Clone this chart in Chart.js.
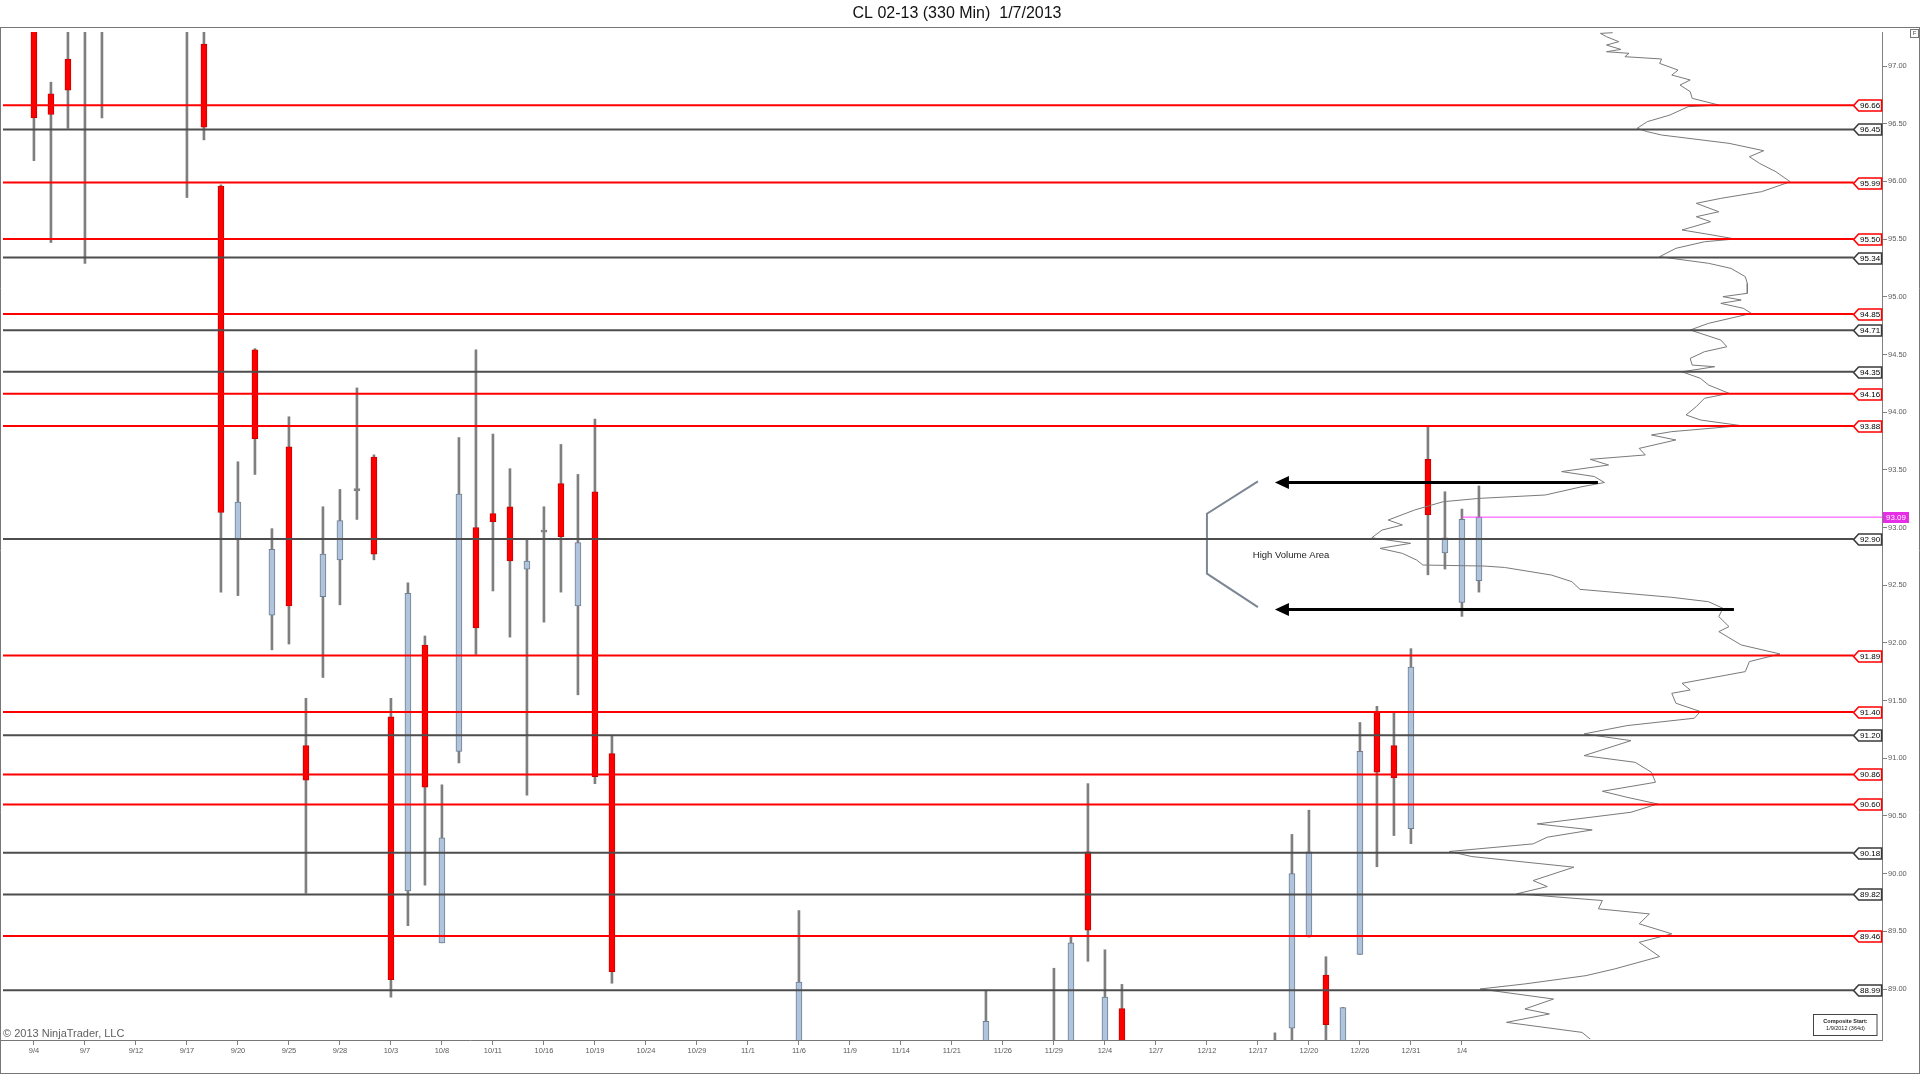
<!DOCTYPE html>
<html><head><meta charset="utf-8">
<script src="https://cdn.jsdelivr.net/npm/chart.js@4.4.1/dist/chart.umd.min.js"></script>
<style>html,body{margin:0;padding:0;background:#fff;overflow:hidden}canvas{display:block}</style>
</head><body>
<canvas id="c" width="1920" height="1074"></canvas>
<script>
// ---------- DATA ----------
const chartTitle = 'CL 02-13 (330 Min)  1/7/2013';
const copyright = '\u00A9 2013 NinjaTrader, LLC';
const compositeText = ['Composite Start:', '1/9/2012 (364d)'];

// x tick labels, one every 3 bars (bar index 0,3,6,...)
const xTickLabels = ['9/4','9/7','9/12','9/17','9/20','9/25','9/28','10/3','10/8','10/11','10/16','10/19','10/24','10/29','11/1','11/6','11/9','11/14','11/21','11/26','11/29','12/4','12/7','12/12','12/17','12/20','12/26','12/31','1/4'];
const yTickValues = [89.0,89.5,90.0,90.5,91.0,91.5,92.0,92.5,93.0,93.5,94.0,94.5,95.0,95.5,96.0,96.5,97.0];

// 330-minute bars (index = bar number); null = bar not in visible price window
const barOpen  = [97.60,96.76,97.06,97.50,97.60,null,null,null,null,97.40,97.19,95.96,92.90,94.54,92.24,93.70,91.11,92.40,92.72,93.32,93.61,91.36,89.85,91.98,89.40,91.06,93.00,93.12,93.18,92.64,92.96,93.38,92.32,93.31,91.04,
  null,null,null,null,null,null,null,null,null,null,88.20,null,null,null,null,null,null,null,null,null,null,88.30,null,null,null,
  88.20,88.40,90.19,88.40,88.83,null,null,null,null,null,null,null,null,88.30,88.66,89.46,89.12,88.40,89.30,91.40,91.11,90.39,93.59,92.78,92.35,92.54];
const barHigh  = [97.80,96.86,97.50,97.80,97.90,null,null,null,null,97.70,97.45,95.97,93.57,94.55,92.99,93.96,91.52,93.18,93.33,94.21,93.63,91.52,92.52,92.06,90.77,93.78,94.54,93.81,93.51,92.89,93.18,93.72,93.46,93.94,91.20,
  null,null,null,null,null,null,null,null,null,null,89.68,null,null,null,null,null,null,null,null,null,null,88.99,null,null,null,
  89.18,89.45,90.78,89.34,89.04,null,null,null,null,null,null,null,null,88.62,90.34,90.55,89.28,88.84,91.31,91.45,91.40,91.95,93.88,93.31,93.16,93.36];
const barLow   = [96.18,95.47,96.46,95.29,96.55,null,null,null,null,95.86,96.36,92.44,92.41,93.46,91.94,91.99,89.83,91.70,92.33,93.07,92.72,88.93,89.55,89.90,89.40,90.96,91.90,92.45,92.05,90.68,92.18,92.44,91.55,90.78,89.05,
  null,null,null,null,null,null,null,null,null,null,88.00,null,null,null,null,null,null,null,null,null,null,88.10,null,null,null,
  87.90,88.20,89.24,88.20,88.20,null,null,null,null,null,null,null,null,88.00,88.40,89.45,88.40,88.30,89.30,90.06,90.33,90.26,92.59,92.64,92.23,92.44];
const barClose = [96.55,96.58,96.79,97.70,97.40,null,null,null,null,97.50,96.47,93.13,93.22,93.77,92.81,92.32,90.81,92.77,93.06,93.32,92.77,89.08,92.43,90.75,90.31,93.29,92.13,93.05,92.71,92.71,92.96,92.92,92.87,90.84,89.15,
  null,null,null,null,null,null,null,null,null,null,89.06,null,null,null,null,null,null,null,null,null,null,88.72,null,null,null,
  88.40,89.40,89.51,88.93,88.40,null,null,null,null,null,null,null,null,88.45,90.00,90.19,88.69,88.84,91.06,90.88,90.83,91.79,93.11,92.91,93.07,93.09];

// horizontal price levels
const redLevels  = [96.66,95.99,95.50,94.85,94.16,93.88,91.89,91.40,90.86,90.60,89.46];
const grayLevels = [96.45,95.34,94.71,94.35,92.90,91.20,90.18,89.82,88.99];
const lastPrice = 93.09;

// composite volume profile (price level, relative volume)
const profilePrice = [97.289,97.283,97.254,97.211,97.182,97.144,97.124,97.110,97.081,97.061,97.023,96.965,96.922,96.879,96.835,96.778,96.720,96.662,96.648,96.575,96.518,96.460,96.431,96.402,96.330,96.266,96.214,96.156,96.084,95.997,95.911,95.853,95.810,95.737,95.694,95.651,95.579,95.535,95.501,95.477,95.420,95.347,95.290,95.246,95.174,95.116,95.030,95.001,94.972,94.943,94.900,94.856,94.770,94.712,94.625,94.567,94.524,94.466,
  94.408,94.394,94.350,94.293,94.235,94.163,94.120,94.048,93.976,93.932,93.883,93.831,93.802,93.759,93.686,93.629,93.591,93.542,93.485,93.442,93.390,93.354,93.282,93.253,93.224,93.152,93.065,93.022,92.978,92.911,92.863,92.819,92.776,92.718,92.675,92.666,92.654,92.588,92.531,92.464,92.395,92.357,92.300,92.228,92.141,92.098,91.982,91.904,91.838,91.751,91.650,91.592,91.563,91.477,91.405,91.347,
  91.283,91.211,91.153,91.023,90.965,90.879,90.792,90.714,90.662,90.604,90.532,90.431,90.379,90.316,90.258,90.192,90.148,90.056,89.940,89.888,89.825,89.767,89.695,89.651,89.565,89.478,89.405,89.281,89.174,89.116,89.044,89.000,88.913,88.827,88.784,88.711,88.624,88.566];
const profileVolume = [312.7,300.4,306.5,318.8,306.5,320.8,306.5,329,324.9,361.6,359.6,378,371.8,390.2,380,390.2,392.2,418.8,388.2,369.8,347.3,337.1,347.3,361.6,429,463.7,449.4,459.6,475.9,490.2,461.6,420.8,396.3,418.8,396.3,410.6,382,412.7,435.1,404.5,375.9,359.6,408.6,431,445.3,447.3,447.3,422.9,441.2,420.8,443.3,451.4,408.6,390.2,420.8,426.9,404.5,390.2,
  392.2,414.7,382,400.4,408.6,429,404.5,396.3,386.1,400.4,441.2,371.8,351.4,375.9,339.2,345.3,290.2,308.6,261.6,294.3,304.5,282,245.3,180,143.3,114.7,88.2,102.4,82,71.8,110.6,80,102.4,116.7,122.9,184.1,204.5,251.4,271.8,280,371.8,408.6,422.9,418.8,429,418.8,441.2,480,449.4,445.3,382,390.2,371.8,375.9,400.4,394.3,
  326.9,284.1,331,284.1,335.1,351.4,355.5,302.4,326.9,357.6,331,237.1,292.2,247.3,233.1,149.4,171.8,273.9,233.1,247.3,216.7,302.4,298.4,349.4,339.2,371.8,339.2,359.6,314.7,286.1,224.9,180,253.5,224.9,249.4,206.5,282,290.2];

// annotation: arrows (price, from bar, to bar), bracket and text
const arrowPrices = [93.39, 92.29];
const arrowFrom = [73.0, 73.0];
const arrowTo = [92.0, 100.0];
const bracketX = [72.0, 69.0, 69.0, 72.0];
const bracketY = [93.40, 93.12, 92.60, 92.31];
const noteText = 'High Volume Area';
const notePos = [71.7, 92.76];

// ---------- CONFIG ----------
const X_MIN = -1.82, X_MAX = 108.71, LEVEL_END = 107.04;
const Y_MIN = 88.558, Y_MAX = 97.295;
const FONT = '"Liberation Sans", Arial, sans-serif';

const wickData = [], bodyData = [], bodyFill = [], bodyStroke = [];
for (let i = 0; i < barOpen.length; i++) {
  if (barOpen[i] === null) continue;
  wickData.push({x: i, y: [barLow[i], barHigh[i]]});
  bodyData.push({x: i, y: [barOpen[i], barClose[i]]});
  if (barClose[i] > barOpen[i]) { bodyFill.push('#b0c4de'); bodyStroke.push('#6f7f90'); }
  else if (barClose[i] < barOpen[i]) { bodyFill.push('#ff0000'); bodyStroke.push('#c80000'); }
  else { bodyFill.push('#808080'); bodyStroke.push('#808080'); }
}

const datasets = [];
redLevels.forEach(v => datasets.push({type:'line', data:[{x:X_MIN,y:v},{x:LEVEL_END,y:v}], borderColor:'#ff0000', borderWidth:2, pointRadius:0, order:0}));
grayLevels.forEach(v => datasets.push({type:'line', data:[{x:X_MIN,y:v},{x:LEVEL_END,y:v}], borderColor:'#4d4d4d', borderWidth:2, pointRadius:0, order:0}));
datasets.push({type:'line', data:[{x:84,y:lastPrice},{x:X_MAX,y:lastPrice}], borderColor:'#ff40ff', borderWidth:1, pointRadius:0, order:0});
arrowPrices.forEach((p, k) => datasets.push({type:'line', data:[{x:arrowFrom[k]+0.6,y:p},{x:arrowTo[k],y:p}], borderColor:'#000', borderWidth:3, pointRadius:0, order:0}));
datasets.push({type:'line', data:bracketX.map((x,k)=>({x:x,y:bracketY[k]})), borderColor:'#7d8694', borderWidth:2, pointRadius:0, order:0});
datasets.push({type:'line', xAxisID:'xp', data:profilePrice.map((p,k)=>({x:profileVolume[k], y:p})), borderColor:'#7a7a7a', borderWidth:1, pointRadius:0, tension:0, order:1});
datasets.push({type:'bar', data:bodyData, backgroundColor:bodyFill, borderColor:bodyStroke, borderWidth:1, borderSkipped:false, barThickness:6, minBarLength:2, grouped:false, order:2});
datasets.push({type:'bar', data:wickData, backgroundColor:'#7f7f7f', borderWidth:0, barThickness:2, grouped:false, order:3});

const decorPlugin = {
  id: 'decor',
  beforeDraw(chart) {
    const c = chart.ctx;
    c.save(); c.fillStyle = '#fff'; c.fillRect(0, 0, chart.width, chart.height); c.restore();
  },
  afterDraw(chart) {
    const c = chart.ctx, xs = chart.scales.x, ys = chart.scales.y;
    c.save();
    // frame
    c.strokeStyle = '#777'; c.lineWidth = 1;
    c.beginPath();
    c.moveTo(0, 27.5); c.lineTo(1920, 27.5);
    c.moveTo(0.5, 27); c.lineTo(0.5, 1074);
    c.moveTo(0, 1073.5); c.lineTo(1920, 1073.5);
    c.moveTo(1919.5, 27); c.lineTo(1919.5, 1074);
    c.moveTo(0, 1040.5); c.lineTo(1882, 1040.5);
    c.stroke();
    // title
    c.fillStyle = '#111'; c.font = '16px ' + FONT; c.textAlign = 'center'; c.textBaseline = 'middle';
    c.fillText(chartTitle, 957, 14);
    // copyright
    c.fillStyle = '#606060'; c.font = '11px ' + FONT; c.textAlign = 'left';
    c.fillText(copyright, 3, 1034);
    // F box
    c.strokeStyle = '#777'; c.strokeRect(1910.5, 29.5, 8, 8);
    c.fillStyle = '#555'; c.font = '6px ' + FONT; c.textAlign = 'center'; c.fillText('F', 1914.5, 33.5);
    // composite box
    c.fillStyle = '#fff'; c.fillRect(1813.5, 1014.5, 63.5, 21);
    c.strokeStyle = '#444'; c.strokeRect(1813.5, 1014.5, 63.5, 21);
    c.fillStyle = '#222'; c.font = 'bold 5.5px ' + FONT;
    c.fillText(compositeText[0], 1845.5, 1021.5);
    c.font = '5.5px ' + FONT;
    c.fillText(compositeText[1], 1845.5, 1028.5);
    // level labels
    const xl = xs.getPixelForValue(LEVEL_END);
    const lab = (v, col) => {
      const y = Math.round(ys.getPixelForValue(v)) + 0.5, w = 28, h = 11, p = 5;
      c.beginPath();
      c.moveTo(xl, y); c.lineTo(xl + p, y - h/2); c.lineTo(xl + w, y - h/2);
      c.lineTo(xl + w, y + h/2); c.lineTo(xl + p, y + h/2); c.closePath();
      c.fillStyle = '#fff'; c.fill();
      c.lineWidth = 1.6; c.strokeStyle = col; c.stroke();
      c.fillStyle = '#000'; c.font = '8px ' + FONT; c.textAlign = 'center'; c.textBaseline = 'middle';
      c.fillText(v.toFixed(2), xl + w/2 + 2.5, y + 0.5);
    };
    redLevels.forEach(v => lab(v, '#ff0000'));
    grayLevels.forEach(v => lab(v, '#3a3a3a'));
    // last price marker
    const ly = Math.round(ys.getPixelForValue(lastPrice));
    c.fillStyle = '#e62ee6'; c.fillRect(1883, ly - 5, 26, 11);
    c.fillStyle = '#fff'; c.font = '8px ' + FONT; c.textAlign = 'center'; c.textBaseline = 'middle';
    c.fillText(lastPrice.toFixed(2), 1896, ly + 0.5);
    // arrow heads
    c.fillStyle = '#000';
    arrowPrices.forEach((p, k) => {
      const tx = xs.getPixelForValue(arrowFrom[k]), ty = ys.getPixelForValue(p);
      c.beginPath(); c.moveTo(tx, ty); c.lineTo(tx + 14, ty - 6.5); c.lineTo(tx + 14, ty + 6.5); c.closePath(); c.fill();
    });
    // note text
    c.fillStyle = '#222'; c.font = '9.5px ' + FONT; c.textAlign = 'left'; c.textBaseline = 'middle';
    c.fillText(noteText, xs.getPixelForValue(notePos[0]), ys.getPixelForValue(notePos[1]));
    c.restore();
  }
};

const tickFont = {family: FONT, size: 7.5};
new Chart(document.getElementById('c'), {
  type: 'bar',
  data: {datasets},
  plugins: [decorPlugin],
  options: {
    responsive: false, devicePixelRatio: 1, animation: false, events: [],
    layout: {padding: {left: 3, top: 32, right: 0, bottom: 0}},
    plugins: {legend: {display: false}, tooltip: {enabled: false}, title: {display: false}},
    scales: {
      x: {
        type: 'linear', min: X_MIN, max: X_MAX, offset: false,
        grid: {display: true, drawOnChartArea: false, drawTicks: true, tickLength: 5, color: '#808080', offset: false},
        border: {display: false},
        afterBuildTicks: s => { s.ticks = xTickLabels.map((_, k) => ({value: k * 3})); },
        afterFit: s => { s.height = 34; },
        ticks: {autoSkip: false, maxRotation: 0, minRotation: 0, padding: 1, color: '#5a5a5a', font: tickFont,
          callback: (v, i) => xTickLabels[i]}
      },
      xp: {type: 'linear', display: false, min: -1297, max: 582, offset: false, grid: {offset: false}},
      y: {
        type: 'linear', position: 'right', min: Y_MIN, max: Y_MAX, offset: false,
        grid: {display: true, drawOnChartArea: false, drawTicks: true, tickLength: 5, color: '#808080'},
        border: {display: true, color: '#808080', width: 1},
        afterBuildTicks: s => { s.ticks = yTickValues.map(v => ({value: v})); },
        afterFit: s => { s.width = 38; },
        ticks: {padding: 1, color: '#5a5a5a', font: tickFont, callback: v => Number(v).toFixed(2)}
      }
    }
  }
});
</script>
</body></html>
